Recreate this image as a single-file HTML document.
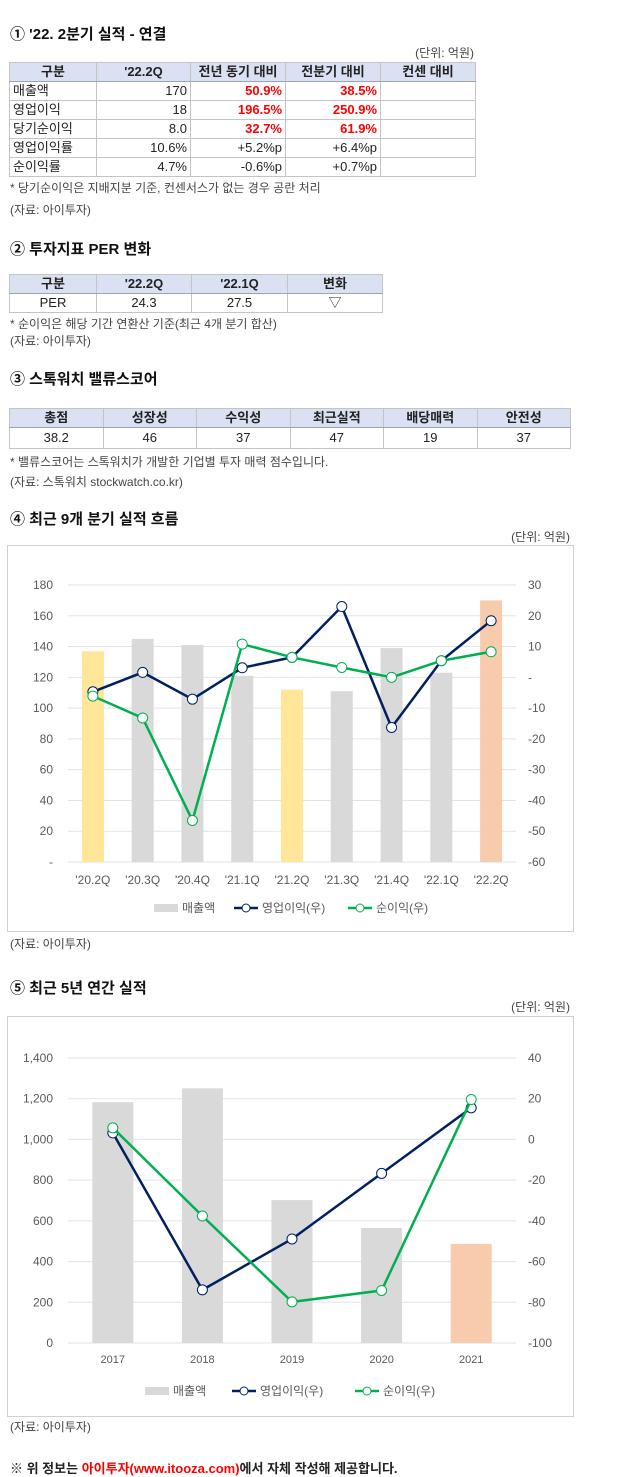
<!DOCTYPE html>
<html><head><meta charset="utf-8">
<style>
body{margin:0;width:640px;height:1476px;background:#fff;position:relative;font-family:"Liberation Sans","Noto Sans CJK KR",sans-serif;color:#222;overflow:hidden}
.a{position:absolute;white-space:nowrap}
.h{font-weight:bold;font-size:15px;color:#111}
.s{font-size:12px;color:#444}
table{position:absolute;border-collapse:collapse;font-size:13px;table-layout:fixed}
td,th{border:1px solid #c4c4c4;padding:0 3px;height:18px;line-height:18px}
th{background:#d9e1f2;font-weight:bold;text-align:center;border-bottom:1.5px solid #9aa4b8}
.r{text-align:right}.c{text-align:center}.red{color:#f00;font-weight:bold;text-align:right}
.box{position:absolute;border:1px solid #d0d0d0;left:7px;width:565px}
</style></head><body>
<div class="a h" style="left:10px;top:23px">① '22. 2분기 실적 - 연결</div>
<div class="a s" style="right:166px;top:44px">(단위: 억원)</div>
<table style="left:9px;top:62px;width:467px">
<colgroup><col style="width:87px"><col style="width:94px"><col style="width:95px"><col style="width:95px"><col style="width:95px"></colgroup>
<tr><th>구분</th><th>'22.2Q</th><th>전년 동기 대비</th><th>전분기 대비</th><th>컨센 대비</th></tr>
<tr><td>매출액</td><td class="r">170</td><td class="red">50.9%</td><td class="red">38.5%</td><td></td></tr>
<tr><td>영업이익</td><td class="r">18</td><td class="red">196.5%</td><td class="red">250.9%</td><td></td></tr>
<tr><td>당기순이익</td><td class="r">8.0</td><td class="red">32.7%</td><td class="red">61.9%</td><td></td></tr>
<tr><td>영업이익률</td><td class="r">10.6%</td><td class="r">+5.2%p</td><td class="r">+6.4%p</td><td></td></tr>
<tr><td>순이익률</td><td class="r">4.7%</td><td class="r">-0.6%p</td><td class="r">+0.7%p</td><td></td></tr>
</table>
<div class="a s" style="left:10px;top:179px">* 당기순이익은 지배지분 기준, 컨센서스가 없는 경우 공란 처리</div>
<div class="a s" style="left:10px;top:201px">(자료: 아이투자)</div>

<div class="a h" style="left:10px;top:238px">② 투자지표 PER 변화</div>
<table style="left:9px;top:274px;width:373px">
<colgroup><col style="width:87px"><col style="width:95px"><col style="width:96px"><col style="width:95px"></colgroup>
<tr><th>구분</th><th>'22.2Q</th><th>'22.1Q</th><th>변화</th></tr>
<tr><td class="c">PER</td><td class="c">24.3</td><td class="c">27.5</td><td class="c">▽</td></tr>
</table>
<div class="a s" style="left:10px;top:315px">* 순이익은 해당 기간 연환산 기준(최근 4개 분기 합산)</div>
<div class="a s" style="left:10px;top:332px">(자료: 아이투자)</div>

<div class="a h" style="left:10px;top:368px">③ 스톡워치 밸류스코어</div>
<table style="left:9px;top:408px;width:562px">
<tr><th>총점</th><th>성장성</th><th>수익성</th><th>최근실적</th><th>배당매력</th><th>안전성</th></tr>
<tr><td class="c" style="height:20px">38.2</td><td class="c">46</td><td class="c">37</td><td class="c">47</td><td class="c">19</td><td class="c">37</td></tr>
</table>
<div class="a s" style="left:10px;top:453px">* 밸류스코어는 스톡워치가 개발한 기업별 투자 매력 점수입니다.</div>
<div class="a s" style="left:10px;top:473px">(자료: 스톡워치 stockwatch.co.kr)</div>

<div class="a h" style="left:10px;top:508px">④ 최근 9개 분기 실적 흐름</div>
<div class="a s" style="right:70px;top:528px">(단위: 억원)</div>
<div class="box" style="top:545px;height:385px"></div>
<svg class="a" id="c1" style="left:0;top:0" width="640" height="1476"></svg>
<div class="a s" style="left:10px;top:935px">(자료: 아이투자)</div>

<div class="a h" style="left:10px;top:977px">⑤ 최근 5년 연간 실적</div>
<div class="a s" style="right:70px;top:998px">(단위: 억원)</div>
<div class="box" style="top:1016px;height:399px"></div>
<div class="a s" style="left:10px;top:1418px">(자료: 아이투자)</div>
<div class="a" style="left:10px;top:1458px;font-size:13px;font-weight:bold">※ 위 정보는 <span style="color:#f00">아이투자(www.itooza.com)</span>에서 자체 작성해 제공합니다.</div>

<script>
const qCats=["'20.2Q","'20.3Q","'20.4Q","'21.1Q","'21.2Q","'21.3Q","'21.4Q","'22.1Q","'22.2Q"];
const qSales=[137,145,141,121,112,111,139,123,170];
const qOp=[-4.7,1.6,-7.1,3.1,6.5,23,-16.3,5.4,18.4];
const qNet=[-6.1,-13.2,-46.5,10.8,6.5,3.2,0,5.4,8.3];
const qLeftTicks=[0,20,40,60,80,100,120,140,160,180];
const qRightTicks=[-60,-50,-40,-30,-20,-10,0,10,20,30];
const qBarColors=["#ffe699","#d9d9d9","#d9d9d9","#d9d9d9","#ffe699","#d9d9d9","#d9d9d9","#d9d9d9","#f8cbad"];

const yCats=["2017","2018","2019","2020","2021"];
const ySales=[1183,1251,702,565,487];
const yOp=[3.2,-73.9,-48.9,-16.7,15.5];
const yNet=[5.7,-37.6,-79.8,-74.2,19.6];
const yLeftTicks=[0,200,400,600,800,1000,1200,1400];
const yRightTicks=[-100,-80,-60,-40,-20,0,20,40];
const yBarColors=["#d9d9d9","#d9d9d9","#d9d9d9","#d9d9d9","#f8cbad"];

const svg=document.getElementById('c1');
const NS='http://www.w3.org/2000/svg';
function mk(tag,attrs,txt){const e=document.createElementNS(NS,tag);for(const k in attrs)e.setAttribute(k,attrs[k]);if(txt!==undefined)e.textContent=txt;svg.appendChild(e);return e;}
function chart(o){
  const L=68,R=516,top=o.top,bot=o.bot;
  const lmin=o.lt[0],lmax=o.lt[o.lt.length-1],rmin=o.rt[0],rmax=o.rt[o.rt.length-1];
  const yl=v=>bot-(v-lmin)/(lmax-lmin)*(bot-top);
  const yr=v=>bot-(v-rmin)/(rmax-rmin)*(bot-top);
  const n=o.cats.length,step=(R-L)/n;
  const xc=i=>L+step*(i+0.5);
  o.lt.forEach((t,i)=>{
    const g=mk('line',{x1:L,x2:R,y1:yl(t),y2:yl(t),stroke:'#e3e3e3','stroke-width':1});
    
    const lt=mk('text',{x:53,y:yl(t)+4,'text-anchor':'end','font-size':12,fill:'#595959'},o.lfmt(t));
    
    const rv=o.rt[i];
    const rtx=mk('text',{x:528,y:yr(rv)+4,'text-anchor':'start','font-size':12,fill:'#595959'},o.rfmt(rv));
    
  });
  o.sales.forEach((v,i)=>{
    const b=mk('rect',{x:xc(i)-o.bw/2,y:yl(v),width:o.bw,height:bot-yl(v),fill:o.colors[i]});
    
    const c=mk('text',{x:xc(i),y:o.labY,'text-anchor':'middle','font-size':o.catFs,fill:'#595959'},o.cats[i]);
    
  });
  [[o.op,'#002060','op-profit'],[o.net,'#00b050','net-profit']].forEach(([arr,col,nm])=>{
    const p=mk('polyline',{points:arr.map((v,i)=>xc(i)+','+yr(v)).join(' '),fill:'none',stroke:col,'stroke-width':2.5});
    
    arr.forEach((v,i)=>{const c=mk('circle',{cx:xc(i),cy:yr(v),r:5,fill:'#fff',stroke:col,'stroke-width':1});
      });
  });
  const ly=o.legY,lx=o.legX;
  const s=mk('rect',{x:lx[0],y:ly-4,width:24,height:8,fill:'#d9d9d9'});
  let t=mk('text',{x:lx[0]+28,y:ly+4,'font-size':12,fill:'#595959'},'매출액');
  [[lx[1],'#002060','영업이익(우)','legend-op-profit'],[lx[2],'#00b050','순이익(우)','legend-net-profit']].forEach(([x,col,lab,nm])=>{
    const l=mk('line',{x1:x,x2:x+24,y1:ly,y2:ly,stroke:col,'stroke-width':2.5});
    mk('circle',{cx:x+12,cy:ly,r:4,fill:'#fff',stroke:col});
    const tt=mk('text',{x:x+28,y:ly+4,'font-size':12,fill:'#595959'},lab);
  });
}
chart({top:585,bot:862,lt:qLeftTicks,rt:qRightTicks,lfmt:v=>v===0?'-':String(v),rfmt:v=>v===0?'-':String(v),
  cats:qCats,sales:qSales,op:qOp,net:qNet,colors:qBarColors,bw:22,labY:884,catFs:12,legY:908,legX:[154,234,348]});
chart({top:1058,bot:1343,lt:yLeftTicks,rt:yRightTicks,lfmt:v=>v.toLocaleString('en-US'),rfmt:v=>String(v),
  cats:yCats,sales:ySales,op:yOp,net:yNet,colors:yBarColors,bw:41,labY:1363,catFs:11,legY:1391,legX:[145,232,355]});
</script>
</body></html>
